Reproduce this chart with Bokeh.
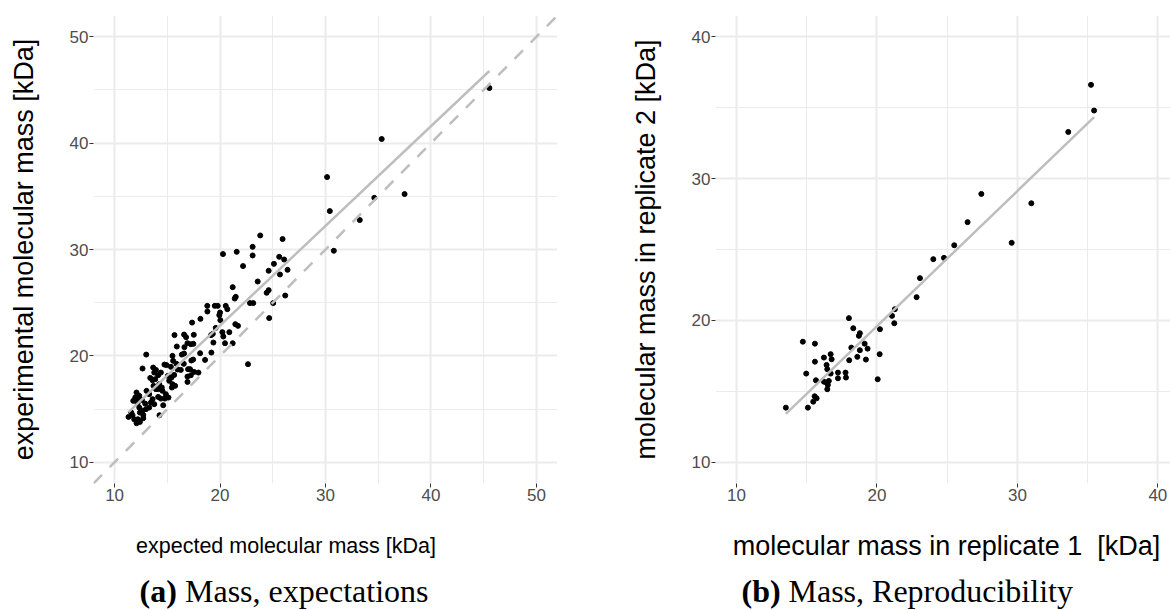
import numpy as np
from bokeh.plotting import figure
from bokeh.models import Range1d, FixedTicker, Label, Slope
from bokeh.layouts import row, column
from bokeh.embed import file_html
from bokeh.resources import INLINE

# ---------------- data: panel (a) ----------------
expected_mass = [
    45.54, 35.33, 30.15, 30.41, 37.50, 34.63, 33.25, 30.79, 23.81, 25.93, 23.09, 23.09,
    21.58, 20.28, 22.18, 25.61, 26.08, 25.11, 24.61, 26.40, 25.68, 23.57, 21.20, 24.61,
    24.42, 26.18, 21.49, 21.39, 22.84, 23.15, 25.04, 24.66, 22.65,
    18.79, 19.50, 19.78, 18.80, 20.54, 20.69, 20.00, 19.93, 20.03, 19.59, 18.14, 17.35,
    21.45, 21.70, 20.22, 20.88, 19.31, 19.15, 16.59, 16.78, 17.51, 15.68, 20.31, 21.20,
    19.37, 20.47, 16.91, 17.23, 17.47, 15.90, 16.62, 18.11, 19.18, 13.00, 15.49, 15.55,
    16.38, 16.59, 17.28, 18.58, 17.45, 16.56, 15.87, 14.73, 14.92, 15.34, 15.97, 16.28,
    16.97, 17.16, 17.54, 17.95, 12.65, 13.66, 13.92, 13.76, 14.13, 14.39, 13.38, 13.60,
    13.85, 15.05, 15.39, 15.65, 15.18, 16.91, 17.23, 16.91, 15.49, 15.74, 15.43, 14.23,
    14.48, 14.16, 14.54, 13.69, 13.92, 13.03, 13.28, 14.86, 15.11, 14.77, 14.13, 14.39,
    13.60, 13.44, 13.76, 12.08, 12.34, 11.96, 12.27, 12.59, 11.77, 12.18, 12.90, 13.28,
    12.97, 14.61, 12.34, 12.65, 12.40, 12.72, 11.32, 11.70, 11.86, 12.21, 12.40, 12.08,
    12.72, 11.58, 14.26,
]
experimental_mass = [
    45.18, 40.39, 36.81, 33.61, 35.21, 34.86, 32.77, 29.88, 31.32, 30.98, 30.25, 29.44,
    29.78, 29.57, 28.44, 29.31, 29.06, 28.65, 28.00, 28.09, 27.65, 26.99, 26.46, 26.18,
    25.93, 25.67, 25.55, 25.39, 24.96, 24.96, 24.96, 23.55, 19.22,
    24.70, 24.70, 24.70, 24.17, 24.70, 24.39, 24.07, 23.83, 23.36, 22.63, 23.48, 23.13,
    22.98, 22.82, 22.23, 22.23, 22.07, 21.95, 22.00, 21.76, 21.98, 21.95, 21.82, 21.19,
    21.25, 21.19, 21.19, 21.10, 21.13, 20.88, 20.82, 20.25, 20.31, 20.12, 20.00, 19.53,
    20.12, 20.22, 19.56, 19.62, 19.65, 19.25, 19.25, 19.18, 19.13, 18.97, 18.72, 18.68,
    18.75, 18.75, 18.49, 18.43, 18.81, 18.90, 18.68, 18.43, 18.18, 18.43, 17.93, 17.71,
    17.81, 18.12, 17.96, 18.21, 17.65, 18.05, 18.18, 17.55, 17.34, 17.18, 17.02, 17.34,
    17.02, 16.87, 16.71, 17.18, 16.87, 16.71, 16.40, 16.40, 16.08, 15.98, 16.14, 15.98,
    15.93, 15.61, 15.46, 16.55, 16.24, 16.08, 15.93, 15.86, 15.77, 15.51, 15.51, 15.14,
    14.99, 15.36, 15.14, 14.83, 14.67, 14.45, 14.26, 14.42, 14.04, 14.04, 13.79, 13.67,
    14.14, 14.67, 14.42,
]

# ---------------- data: panel (b) ----------------
replicate1 = [
    13.51, 15.08, 15.46, 15.56, 15.70, 14.72, 15.58, 14.96, 15.58, 15.65, 16.22, 16.41,
    16.46, 16.70, 16.77, 16.70, 16.22, 16.41, 16.57, 16.50, 16.46, 17.22, 17.22, 17.76,
    17.79, 18.02, 18.17, 18.00, 18.31, 18.71, 18.78, 18.78, 18.60, 19.12, 19.33, 19.21,
    20.21, 20.19, 20.05, 21.07, 21.23, 21.27, 22.82, 23.06, 24.01, 24.77, 25.50, 26.45,
    27.43, 29.59, 30.99, 33.62, 35.24, 35.46,
]
replicate2 = [
    13.85, 13.85, 14.27, 14.65, 14.51, 18.50, 18.36, 16.25, 17.09, 15.78, 17.38, 16.86,
    16.56, 17.62, 17.26, 16.25, 15.68, 15.61, 15.73, 15.45, 15.15, 16.32, 15.92, 16.32,
    15.97, 17.19, 18.08, 20.16, 19.45, 18.91, 19.10, 17.90, 17.43, 18.36, 18.01, 17.24,
    19.38, 17.62, 15.85, 20.32, 19.80, 20.79, 21.64, 22.98, 24.32, 24.41, 25.30, 26.93,
    28.92, 25.47, 28.26, 33.29, 36.61, 34.80,
]

ticks_a = [10, 20, 30, 40, 50]
minor_a = [15, 25, 35, 45]
ticks_b = [10, 20, 30, 40]
minor_b = [15, 25, 35]

xlabel_a = "expected molecular mass [kDa]"
ylabel_a = "experimental molecular mass [kDa]"
xlabel_b = "molecular mass in replicate 1\u00a0 [kDa]"
ylabel_b = "molecular mass in replicate 2 [kDa]"
caption_a = ("(a)", "Mass, expectations")
caption_b = ("(b)", "Mass, Reproducibility")

GRID = "#EBEBEB"
FIT = "#BEBEBE"
SANS = "Liberation Sans"
SERIF = "Liberation Serif"


def make_panel(width, bl, br, xr, yr, xt, xm, yt, ym, ylabel, standoff):
    p = figure(width=width, height=510, output_backend="svg", toolbar_location=None,
               x_range=Range1d(*xr), y_range=Range1d(*yr),
               min_border_left=bl, min_border_right=br,
               min_border_top=15, min_border_bottom=27)
    p.outline_line_color = None
    p.background_fill_color = "white"
    p.border_fill_color = "white"
    for ax, grid, t, m in ((p.xaxis[0], p.xgrid[0], xt, xm), (p.yaxis[0], p.ygrid[0], yt, ym)):
        tk = FixedTicker(ticks=t, minor_ticks=m)
        ax.ticker = tk
        grid.ticker = tk
        ax.axis_line_color = None
        ax.major_tick_line_color = "#333333"
        ax.major_tick_in = 0
        ax.major_tick_out = 4
        ax.minor_tick_line_color = None
        ax.major_label_text_font = SANS
        ax.major_label_text_font_size = "17px"
        ax.major_label_text_color = "#4D4D4D"
        ax.major_label_standoff = 1
        grid.grid_line_color = GRID
        grid.grid_line_width = 2
        grid.minor_grid_line_color = GRID
        grid.minor_grid_line_width = 1
    yax = p.yaxis[0]
    yax.axis_label = ylabel
    yax.axis_label_text_font = SANS
    yax.axis_label_text_font_size = "27px"
    yax.axis_label_text_font_style = "normal"
    yax.axis_label_text_color = "black"
    yax.axis_label_standoff = standoff
    return p


def add_fit(p, xs, ys):
    coef = np.polyfit(xs, ys, 1)
    xe = np.array([min(xs), max(xs)])
    p.line(xe, np.polyval(coef, xe), line_color=FIT, line_width=2.5)


# ---------------- panel (a) ----------------
pa = make_panel(600, 93, 43, (8, 52), (8, 52), ticks_a, minor_a, ticks_a, minor_a, ylabel_a, 28)
pa.scatter(expected_mass, experimental_mass, size=5, color="black")
add_fit(pa, expected_mass, experimental_mass)
pa.add_layout(Slope(gradient=1, y_intercept=0, line_color=FIT, line_width=2.5, line_dash="12 11"))

# ---------------- panel (b) ----------------
pb = make_panel(570, 115, 0, (8.5, 40.9), (8.5, 41.5), ticks_b, minor_b, ticks_b, minor_b, ylabel_b, 28)
pb.scatter(replicate1, replicate2, size=5, color="black")
add_fit(pb, replicate1, replicate2)

# ---------------- strip with x titles and captions ----------------
strip = figure(width=1170, height=100, output_backend="svg", toolbar_location=None,
               x_range=Range1d(0, 1170), y_range=Range1d(0, 100),
               x_axis_type=None, y_axis_type=None,
               min_border_left=0, min_border_right=0, min_border_top=0, min_border_bottom=0)
strip.outline_line_color = None
strip.background_fill_color = "white"
strip.border_fill_color = "white"
strip.xgrid.visible = False
strip.ygrid.visible = False


def lab(x, y, text, font, size, align="center", style="normal"):
    strip.add_layout(Label(x=x, y=y, x_units="screen", y_units="screen", text=text,
                           text_font=font, text_font_size=size, text_align=align,
                           text_baseline="alphabetic", text_font_style=style,
                           text_color="black"))


lab(285.5, 65, xlabel_a, SANS, "21.5px")
lab(946, 65, xlabel_b, SANS, "27px")
lab(139, 20, caption_a[0], SERIF, "32px", align="left", style="bold")
lab(184.5, 20, caption_a[1], SERIF, "32px", align="left")
lab(741, 20, caption_b[0], SERIF, "32px", align="left", style="bold")
lab(788, 20, caption_b[1], SERIF, "32px", align="left")

layout = column(row(pa, pb), strip)
open("out.html", "w").write(file_html(layout, INLINE))
